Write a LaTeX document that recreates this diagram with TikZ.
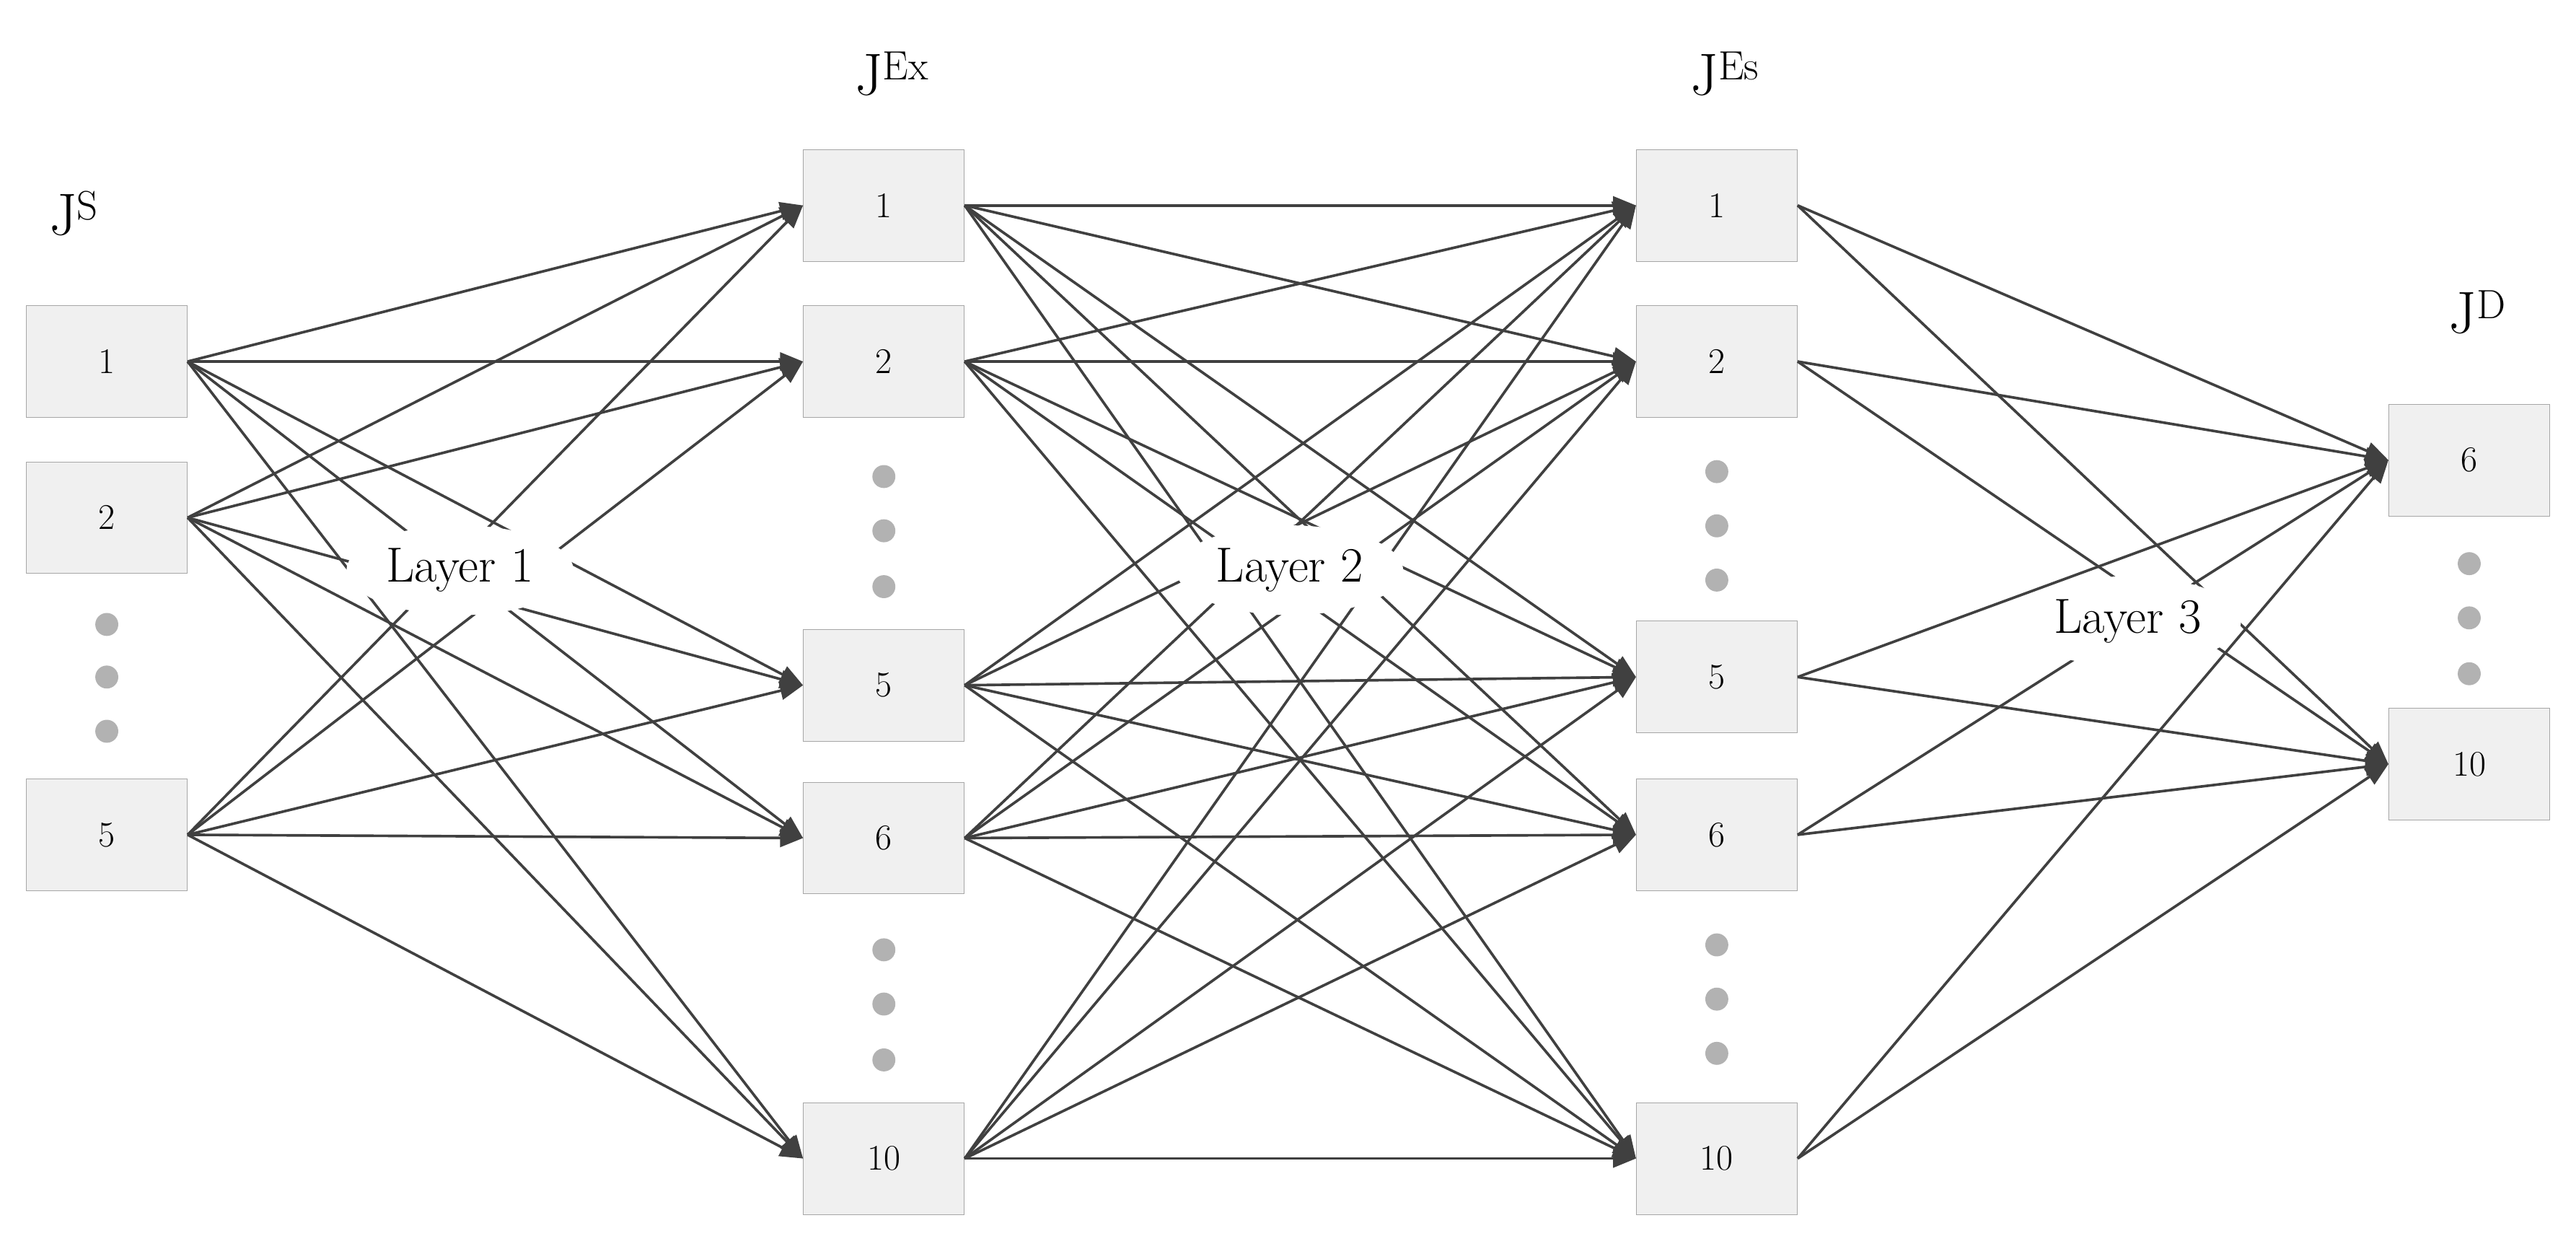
\documentclass[tikz,border=0pt]{standalone}
\usetikzlibrary{arrows.meta,shapes.geometric}
\begin{document}
\begin{tikzpicture}[x=1pt,y=-1pt,
  box/.style={draw=gray!70,fill=gray!12,minimum width=98pt,minimum height=68pt,font=\fontsize{22}{24}\selectfont,inner sep=0pt},
  dot/.style={circle,fill=gray!60,minimum size=14pt,inner sep=0pt},
  lay/.style={fill=white,ellipse,inner xsep=4pt,inner ysep=6pt,font=\fontsize{30}{32}\selectfont},
  ttl/.style={font=\fontsize{36}{38}\selectfont},
  ed/.style={draw=black!75,line width=1.6pt,-{Triangle[length=14pt,width=11pt]}}]
\useasboundingbox (0,0) rectangle (1568,760);
\node[box] (s1) at (65,220) {1};
\node[box] (s2) at (65,315) {2};
\node[box] (s5) at (65,508) {5};
\node[box] (x1) at (538,125) {1};
\node[box] (x2) at (538,220) {2};
\node[box] (x5) at (538,417) {5};
\node[box] (x6) at (538,510) {6};
\node[box] (x10) at (538,705) {10};
\node[box] (e1) at (1045,125) {1};
\node[box] (e2) at (1045,220) {2};
\node[box] (e5) at (1045,412) {5};
\node[box] (e6) at (1045,508) {6};
\node[box] (e10) at (1045,705) {10};
\node[box] (d6) at (1503,280) {6};
\node[box] (d10) at (1503,465) {10};
\foreach \n/\x/\y in {a1/65/380,a2/65/412,a3/65/445,b1/538/290,b2/538/323,b3/538/357,b4/538/578,b5/538/611,b6/538/645,c1/1045/287,c2/1045/320,c3/1045/353,c4/1045/575,c5/1045/608,c6/1045/641,f1/1503/343,f2/1503/376,f3/1503/410}
  \node[dot] (\n) at (\x,\y) {};
\node[ttl] (ts) at (45,130) {J$^{\mathrm{S}}$};
\node[ttl] (tx) at (543,45) {J$^{\mathrm{Ex}}$};
\node[ttl] (te) at (1050,45) {J$^{\mathrm{Es}}$};
\node[ttl] (td) at (1508,190) {J$^{\mathrm{D}}$};
\foreach \a in {s1,s2,s5}\foreach \b in {x1,x2,x5,x6,x10}\draw[ed] (\a.east) -- (\b.west);
\foreach \a in {x1,x2,x5,x6,x10}\foreach \b in {e1,e2,e5,e6,e10}\draw[ed] (\a.east) -- (\b.west);
\foreach \a in {e1,e2,e5,e6,e10}\foreach \b in {d6,d10}\draw[ed] (\a.east) -- (\b.west);
\node[lay] (l1) at (280,347) {Layer 1};
\node[lay] (l2) at (785,347) {Layer 2};
\node[lay] (l3) at (1295,378) {Layer 3};
\end{tikzpicture}
\end{document}
